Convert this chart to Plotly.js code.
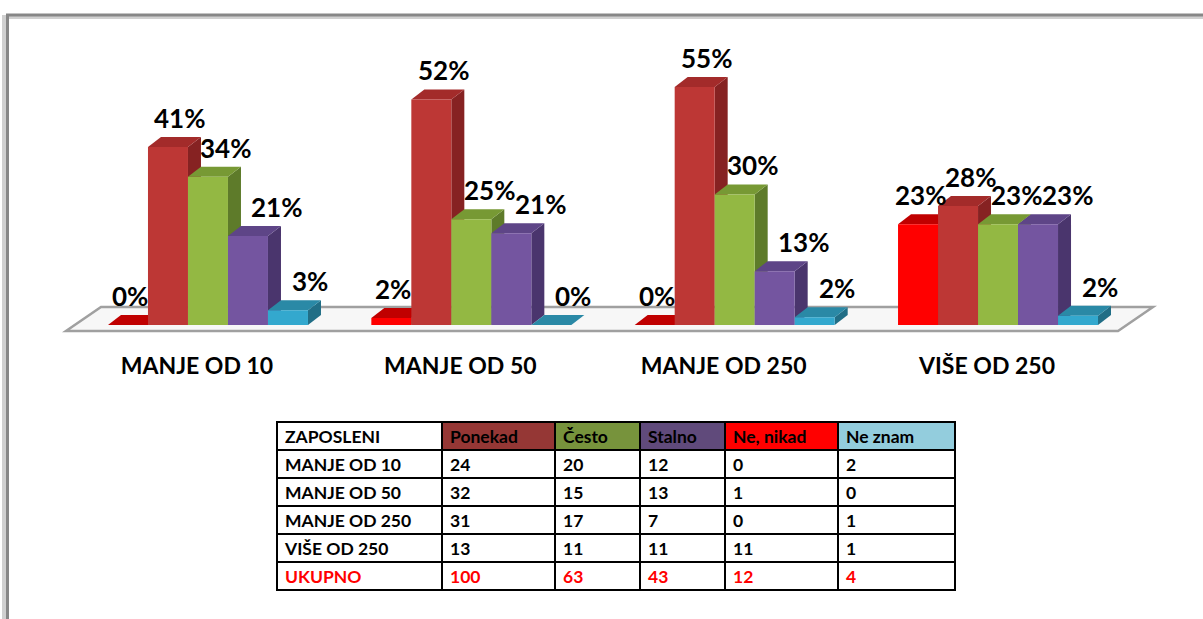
<!DOCTYPE html>
<html><head><meta charset="utf-8">
<script src="https://cdn.plot.ly/plotly-3.0.1.min.js"></script>
<style>html,body{margin:0;padding:0;background:#fff}#chart{width:1203px;height:619px}</style>
</head><body><div id="chart"></div>
<script>
// ---- data ----
const categories = ['MANJE OD 10', 'MANJE OD 50', 'MANJE OD 250', 'VIŠE OD 250'];
const neNikad = [0, 1, 0, 11];
const ponekad = [24, 32, 31, 13];
const cesto   = [20, 15, 17, 11];
const stalno  = [12, 13, 7, 11];
const neZnam  = [2, 0, 1, 1];
const tableHeader = ['ZAPOSLENI', 'Ponekad', 'Često', 'Stalno', 'Ne, nikad', 'Ne znam'];
const totalLabel = 'UKUPNO';

// ---- layout geometry ----
const W = 1203, H = 619;
const plotL = 76.3, plotR = 1129.7, plotT = 67, plotB = 325;
const yMax = 60;
const pxPerX = (plotR - plotL) / categories.length;
const pxPerY = (plotB - plotT) / yMax;
const barPx = 40;
const depthX = 13, depthY = 10;
const px2paperX = p => p / W;
const px2paperY = p => 1 - p / H;

const series = [
  {name: 'Ne, nikad', counts: neNikad, front: '#FF0000', top: '#C00000', side: '#9A0000', tx: 2},
  {name: 'Ponekad',   counts: ponekad, front: '#BD3735', top: '#A32B2A', side: '#862222', tx: 12},
  {name: 'Često',     counts: cesto,   front: '#93B843', top: '#779934', side: '#5E7B2A', tx: 18},
  {name: 'Stalno',    counts: stalno,  front: '#7455A0', top: '#5E4587', side: '#4A356D', tx: 29},
  {name: 'Ne znam',   counts: neZnam,  front: '#33A8CE', top: '#2A89A6', side: '#216E86', tx: 22}
];
const nS = series.length;
const bargap = 1 - nS * barPx / pxPerX;
const xIdx = categories.map((_, i) => i);
const rowTotals = xIdx.map(i => series.reduce((s, se) => s + se.counts[i], 0));
series.forEach(se => { se.pct = se.counts.map((c, i) => 100 * c / rowTotals[i]); });

const traces = [];
const annotations = [];
const shapes = [];

// floor
const fl = {fl: 66, fr: 1118, br: 1153, bl: 101, fy: 331, by: 307};
shapes.push({type: 'path', xref: 'paper', yref: 'paper', layer: 'below',
  path: `M ${px2paperX(fl.fl)},${px2paperY(fl.fy)} L ${px2paperX(fl.fr)},${px2paperY(fl.fy)} L ${px2paperX(fl.br)},${px2paperY(fl.by)} L ${px2paperX(fl.bl)},${px2paperY(fl.by)} Z`,
  fillcolor: '#f7f7f7', line: {color: '#a0a0a0', width: 2.5}});

// frame
shapes.push({type: 'path', xref: 'paper', yref: 'paper', layer: 'below',
  path: `M ${px2paperX(4)},${px2paperY(700)} L ${px2paperX(4)},${px2paperY(17)} L ${px2paperX(1260)},${px2paperY(17)}`,
  line: {color: '#d0d0d0', width: 4}});
shapes.push({type: 'path', xref: 'paper', yref: 'paper', layer: 'below',
  path: `M ${px2paperX(7.5)},${px2paperY(700)} L ${px2paperX(7.5)},${px2paperY(15)} L ${px2paperX(1260)},${px2paperY(15)}`,
  line: {color: '#878787', width: 3}});

series.forEach((se, j) => {
  traces.push({type: 'bar', name: se.name, x: xIdx, y: se.pct,
    marker: {color: se.front, line: {width: 0}}, hoverinfo: 'skip', showlegend: false});
});

xIdx.forEach(i => {
  series.forEach((se, j) => {
    const v = se.pct[i];
    const L = (j - nS / 2) * barPx, R = L + barPx;
    const h = v * pxPerY;
    shapes.push({type: 'path', layer: 'below', xref: 'x', yref: 'y',
      xsizemode: 'pixel', xanchor: i, ysizemode: 'pixel', yanchor: 0,
      path: `M ${R},0 L ${R + depthX},${depthY} L ${R + depthX},${h + depthY} L ${R},${h} Z`,
      fillcolor: se.side, line: {width: 0}});
    shapes.push({type: 'path', layer: 'below', xref: 'x', yref: 'y',
      xsizemode: 'pixel', xanchor: i, ysizemode: 'pixel', yanchor: v,
      path: `M ${L},0 L ${L + depthX},${depthY} L ${R + depthX},${depthY} L ${R},0 Z`,
      fillcolor: se.top, line: {width: 0}});
    annotations.push({xref: 'x', yref: 'y', x: i + (j - (nS - 1) / 2) * barPx / pxPerX, y: v,
      text: Math.round(v) + '%', showarrow: false, xanchor: 'center', yanchor: 'middle',
      xshift: se.tx, yshift: 29,
      font: {family: 'Lato', size: 26, weight: 'bold', color: '#000'}});
  });
});

// table
const tableOrder = [ponekad, cesto, stalno, neNikad, neZnam];
const headerFills = ['#ffffff', '#953735', '#77933C', '#604A7B', '#FF0000', '#93CDDD'];
const colVals = [categories.concat([totalLabel])].concat(
  tableOrder.map(arr => arr.concat([arr.reduce((a, b) => a + b, 0)])));
const fontColors = colVals.map(col => col.map((_, r) => r === col.length - 1 ? '#FF0000' : '#000000'));
traces.push({type: 'table',
  domain: {x: [px2paperX(277), px2paperX(955)], y: [px2paperY(594), px2paperY(422)]},
  columnwidth: [165, 113, 85, 85, 113, 117],
  header: {values: tableHeader, align: 'left', height: 28,
    fill: {color: headerFills}, line: {color: '#000', width: 2},
    font: {family: 'Lato', size: 17.5, weight: 'bold', color: '#000'}},
  cells: {values: colVals, align: 'left', height: 28,
    fill: {color: '#ffffff'}, line: {color: '#000', width: 2},
    font: {family: 'Lato', size: 17.5, weight: 'bold', color: fontColors}}
});

const layout = {
  width: W, height: H,
  margin: {l: 0, r: 0, t: 0, b: 0},
  paper_bgcolor: '#ffffff', plot_bgcolor: 'rgba(0,0,0,0)',
  barmode: 'group', bargap: bargap, bargroupgap: 0,
  showlegend: false,
  xaxis: {domain: [px2paperX(plotL), px2paperX(plotR)], range: [-0.5, categories.length - 0.5],
    tickvals: xIdx, ticktext: categories, ticks: '', showgrid: false, zeroline: false, showline: false,
    ticklabelshift: -11, ticklabelstandoff: 25, fixedrange: true,
    tickfont: {family: 'Lato', size: 23, weight: 'bold', color: '#000'}},
  yaxis: {domain: [px2paperY(plotB), px2paperY(plotT)], range: [0, yMax],
    showgrid: false, zeroline: false, showline: false, showticklabels: false, ticks: '', fixedrange: true},
  shapes: shapes,
  annotations: annotations
};
Plotly.newPlot('chart', traces, layout, {displayModeBar: false, staticPlot: true});
</script>
</body></html>
